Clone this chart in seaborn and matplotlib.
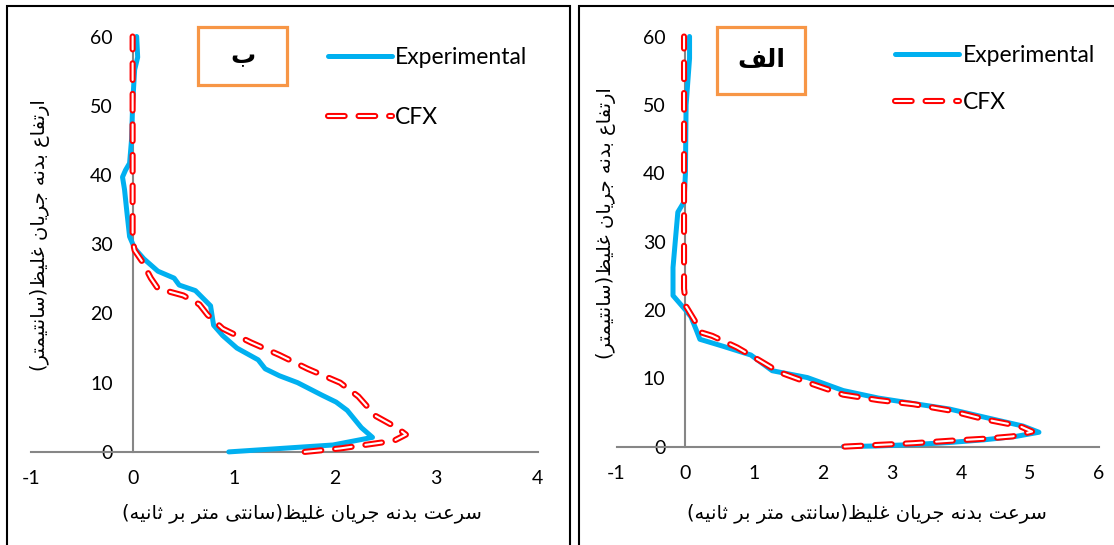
import matplotlib
matplotlib.use("Agg")
import matplotlib.pyplot as plt
from matplotlib.patches import Rectangle
import seaborn as sns

# ---------------- data (velocity cm/s, height cm) ----------------
# panel "ب" (left)
exp_b_vel = [0.95, 1.98, 2.37, 2.26, 2.12, 2.01, 1.87, 1.63, 1.45, 1.31, 1.24, 1.03, 0.89, 0.80,
             0.77, 0.62, 0.46, 0.41, 0.25, 0.11, 0.02, -0.03, -0.06, -0.08, -0.10, -0.07, -0.03,
             -0.01, 0.0, 0.02, 0.05, 0.04]
exp_b_h = [0, 1.0, 2.1, 3.5, 6.0, 7.2, 8.2, 10.0, 11.0, 12.0, 13.3, 15.0, 16.8, 18.3,
           21.1, 23.3, 24.1, 25.1, 26.1, 27.9, 29.4, 31.1, 35.1, 37.9, 39.7, 40.7, 41.7,
           45.2, 50.2, 55.2, 57.0, 60]
cfx_b_vel = [1.70, 2.05, 2.58, 2.70, 2.61, 2.40, 2.23, 2.05, 1.73, 1.45, 1.17, 0.89, 0.74,
             0.66, 0.50, 0.25, 0.18, 0.09, 0.02, 0.0, 0.0, 0.0, 0.0]
cfx_b_h = [0, 0.5, 1.6, 2.5, 3.5, 5.2, 8.0, 10.0, 12.0, 14.0, 15.8, 17.8, 19.8,
           21.3, 22.6, 23.6, 25.1, 27.6, 29.1, 30.5, 40, 50, 60]

# panel "الف" (right)
exp_a_vel = [2.29, 2.80, 3.31, 3.83, 4.34, 4.80, 5.13, 4.90, 4.34, 3.83, 3.31, 2.80, 2.29,
             1.77, 1.26, 0.95, 0.54, 0.21, 0.16, 0.08, 0.0, -0.18, -0.18, -0.15, -0.11,
             -0.02, 0.0, 0.01, 0.06, 0.06]
exp_a_h = [0, 0.1, 0.3, 0.6, 1.0, 1.5, 2.1, 3.0, 4.3, 5.5, 6.3, 7.1, 8.2,
           10.1, 11.1, 13.4, 14.7, 15.7, 17.0, 19.0, 20.0, 22.1, 26.2, 29.7, 34.3,
           35.8, 39.9, 50.0, 56.8, 60]
cfx_a_vel = [2.31, 2.80, 3.31, 3.83, 4.34, 4.75, 5.03, 4.85, 4.34, 3.83, 3.31, 2.80, 2.29,
             1.77, 1.36, 1.06, 0.75, 0.39, 0.23, 0.13, 0.01, -0.02, -0.02, -0.02]
cfx_a_h = [0, 0.25, 0.5, 0.85, 1.15, 1.5, 2.2, 3.0, 4.0, 5.3, 6.2, 6.8, 7.6,
           9.4, 10.9, 12.7, 14.5, 16.2, 16.7, 18.5, 20.5, 23.1, 40, 60]

series_names = ["Experimental", "CFX"]
panel_names = ["ب", "الف"]
x_label = "سرعت بدنه جریان غلیظ(سانتی متر بر ثانیه)"
y_label = "ارتفاع بدنه جریان غلیظ(سانتیمتر)"

# ---------------- Persian text -> shaped, visual order ----------------
FORMS = {  # isolated, final, initial, medial
    "ا": (0xFE8D, 0xFE8E), "د": (0xFEA9, 0xFEAA), "ر": (0xFEAD, 0xFEAE),
    "ب": (0xFE8F, 0xFE90, 0xFE91, 0xFE92), "ت": (0xFE95, 0xFE96, 0xFE97, 0xFE98),
    "ث": (0xFE99, 0xFE9A, 0xFE9B, 0xFE9C), "ج": (0xFE9D, 0xFE9E, 0xFE9F, 0xFEA0),
    "س": (0xFEB1, 0xFEB2, 0xFEB3, 0xFEB4), "ط": (0xFEC1, 0xFEC2, 0xFEC3, 0xFEC4),
    "ظ": (0xFEC5, 0xFEC6, 0xFEC7, 0xFEC8), "ع": (0xFEC9, 0xFECA, 0xFECB, 0xFECC),
    "غ": (0xFECD, 0xFECE, 0xFECF, 0xFED0), "ف": (0xFED1, 0xFED2, 0xFED3, 0xFED4),
    "ل": (0xFEDD, 0xFEDE, 0xFEDF, 0xFEE0), "م": (0xFEE1, 0xFEE2, 0xFEE3, 0xFEE4),
    "ن": (0xFEE5, 0xFEE6, 0xFEE7, 0xFEE8), "ه": (0xFEE9, 0xFEEA, 0xFEEB, 0xFEEC),
    "ی": (0xFEEF, 0xFEF0, 0xFEF3, 0xFEF4),
}
MIRROR = {"(": ")", ")": "("}


def fa(text):
    out = []
    for i, ch in enumerate(text):
        if ch not in FORMS:
            out.append(MIRROR.get(ch, ch))
            continue
        prev = text[i - 1] if i > 0 else ""
        nxt = text[i + 1] if i + 1 < len(text) else ""
        forms = FORMS[ch]
        join_prev = prev in FORMS and len(FORMS[prev]) == 4
        join_next = len(forms) == 4 and nxt in FORMS
        if join_prev and join_next:
            cp = forms[3]
        elif join_next:
            cp = forms[2]
        elif join_prev:
            cp = forms[1]
        else:
            cp = forms[0]
        out.append(chr(cp))
    return "".join(reversed(out))


# ---------------- style ----------------
sns.set_style("white")
plt.rcParams["font.family"] = ["Lato", "DejaVu Sans"]
plt.rcParams["axes.unicode_minus"] = False
plt.rcParams["lines.scale_dashes"] = False
plt.rcParams["text.color"] = "black"

BLUE = "#00B0F0"
RED = "#FF0000"
GRAY = "#868686"
ORANGE = "#F79646"
DASH = (0, (12, 10))
W, H = 1114, 545

fig = plt.figure(figsize=(W / 100, H / 100), dpi=100)

# panel frames
fig.add_artist(Rectangle((7 / W, -0.05), (570 - 7) / W, 1.05 - 6 / H, transform=fig.transFigure,
                         fill=False, edgecolor="black", lw=1.5))
fig.add_artist(Rectangle((579 / W, -0.05), 0.6, 1.05 - 6 / H, transform=fig.transFigure,
                         fill=False, edgecolor="black", lw=1.5))


def draw_panel(rect, exp_v, exp_h, cfx_v, cfx_h, xmax, name, box, leg_anchor, leg_space,
               xlab_pos, ylab_pos):
    ax = fig.add_axes(rect)
    ax.set_facecolor("none")
    sns.lineplot(x=exp_v, y=exp_h, sort=False, estimator=None, ax=ax, color=BLUE, lw=3.6,
                 solid_capstyle="round", solid_joinstyle="round", clip_on=False, zorder=3)
    sns.lineplot(x=cfx_v, y=cfx_h, sort=False, estimator=None, ax=ax, color=RED, lw=4.4,
                 linestyle=DASH, dash_capstyle="round", dash_joinstyle="round", clip_on=False,
                 zorder=4)
    sns.lineplot(x=cfx_v, y=cfx_h, sort=False, estimator=None, ax=ax, color="white", lw=1.5,
                 linestyle=DASH, dash_capstyle="round", dash_joinstyle="round", clip_on=False,
                 zorder=5)
    exp_line, cfx_red, cfx_white = ax.lines[:3]

    ax.set_xlim(-1, xmax)
    ax.set_ylim(0, 60)
    ax.set_xticks(range(-1, xmax + 1))
    ax.set_yticks(range(0, 61, 10))
    ax.spines["top"].set_visible(False)
    ax.spines["right"].set_visible(False)
    ax.spines["left"].set_position(("data", 0))
    for s in ["left", "bottom"]:
        ax.spines[s].set_color(GRAY)
        ax.spines[s].set_linewidth(1.5)
    ax.tick_params(direction="inout", length=8.6, width=1.1, color=GRAY, labelsize=14,
                   labelcolor="black")
    ax.tick_params(axis="x", pad=9)
    ax.tick_params(axis="y", pad=10)
    ax.set_xlabel("")
    ax.set_ylabel("")

    ax.legend([exp_line, (cfx_red, cfx_white)], series_names, loc="upper left",
              bbox_to_anchor=leg_anchor, bbox_transform=fig.transFigure, frameon=False,
              fontsize=16.5, handlelength=2.8, handletextpad=0.15, labelspacing=leg_space,
              borderpad=0, borderaxespad=0)

    # panel label box
    x0, y0, x1, y1 = box
    fig.add_artist(Rectangle((x0 / W, 1 - y1 / H), (x1 - x0) / W, (y1 - y0) / H,
                             transform=fig.transFigure, facecolor="white", edgecolor=ORANGE,
                             lw=2.3, zorder=6))
    fig.text((x0 + x1) / 2 / W, 1 - (y0 + y1) / 2 / H, fa(name), ha="center", va="center",
             fontsize=18, fontweight="bold", family="DejaVu Sans", zorder=7)

    fig.text(xlab_pos[0] / W, 1 - xlab_pos[1] / H, fa(x_label), ha="center", va="center",
             fontsize=14, family="DejaVu Sans")
    fig.text(ylab_pos[0] / W, 1 - ylab_pos[1] / H, fa(y_label), ha="center", va="center",
             rotation=90, fontsize=14, family="DejaVu Sans")
    return ax


draw_panel([31.4 / W, 1 - 451.9 / H, 506.1 / W, 415.4 / H],
           exp_b_vel, exp_b_h, cfx_b_vel, cfx_b_h, 4, panel_names[0],
           (198, 27, 287, 84.5), (327.5 / W, 1 - 47 / H), 1.7, (302, 513), (40, 235))
draw_panel([616.5 / W, 1 - 446.6 / H, 482.4 / W, 410.1 / H],
           exp_a_vel, exp_a_h, cfx_a_vel, cfx_a_h, 6, panel_names[1],
           (717, 27, 805, 94), (895 / W, 1 - 45 / H), 1.15, (867, 513), (606, 223))

fig.savefig("out.png", dpi=100)
